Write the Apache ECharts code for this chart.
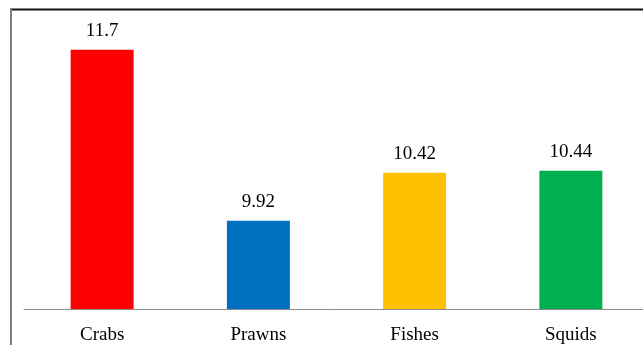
<!DOCTYPE html>
<html>
<head>
<meta charset="utf-8">
<script src="https://cdn.jsdelivr.net/npm/echarts@6/dist/echarts.min.js"></script>
<style>
  html, body { margin: 0; padding: 0; background: #fff; }
  #chart { width: 643px; height: 345px; }
</style>
</head>
<body>
<div id="chart"></div>
<script>
// Catch composition by group
const categories = ['Crabs', 'Prawns', 'Fishes', 'Squids'];
const values = [11.7, 9.92, 10.42, 10.44];
const barColors = ['#FF0000', '#0070C0', '#FFC000', '#00B050'];

const chart = echarts.init(document.getElementById('chart'), null, { renderer: 'canvas' });

const font = '"Liberation Serif", "Times New Roman", serif';

chart.setOption({
  animation: false,
  backgroundColor: '#ffffff',
  // plot area runs slightly past the right edge of the canvas
  grid: { left: 24, width: 625, top: 21, bottom: 36, containLabel: false, outerBoundsMode: 'none' },
  xAxis: {
    type: 'category',
    data: categories,
    axisLine: { show: true, lineStyle: { color: '#8c8c8c', width: 1 } },
    axisTick: { show: false },
    axisLabel: { color: '#000', fontFamily: font, fontSize: 19, margin: 17 }
  },
  yAxis: {
    type: 'value',
    min: 9,
    max: 12,
    show: false
  },
  series: [{
    type: 'bar',
    barWidth: 63,
    data: values.map((v, i) => ({ value: v, itemStyle: { color: barColors[i] } })),
    label: {
      show: true,
      position: 'top',
      distance: 9,
      color: '#000',
      fontFamily: font,
      fontSize: 19
    }
  }],
  graphic: [
    // outer frame: top rule and left edge
    { type: 'line', shape: { x1: 10, y1: 9.5, x2: 643, y2: 9.5 }, style: { stroke: '#111', lineWidth: 2 } },
    { type: 'line', shape: { x1: 11, y1: 9, x2: 11, y2: 345 }, style: { stroke: '#808080', lineWidth: 2 } }
  ]
});
</script>
</body>
</html>
